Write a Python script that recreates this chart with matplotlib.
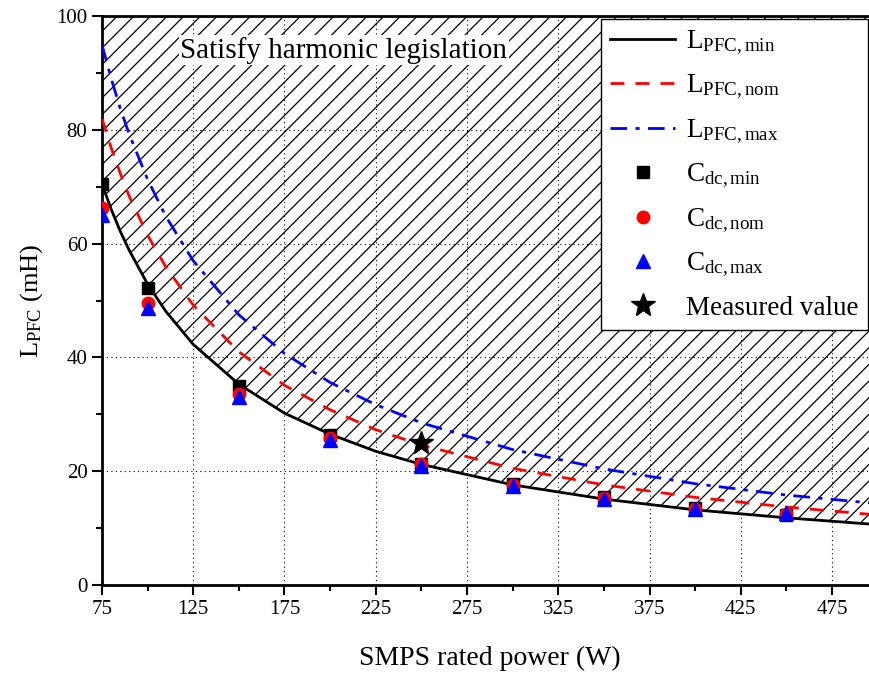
import numpy as np
import matplotlib
matplotlib.use('Agg')
from matplotlib import pyplot as plt
from matplotlib.ticker import MultipleLocator

plt.rcParams['font.family'] = ['Liberation Serif', 'DejaVu Serif']
plt.rcParams['mathtext.fontset'] = 'custom'
plt.rcParams['mathtext.rm'] = 'Liberation Serif'
plt.rcParams['mathtext.it'] = 'Liberation Serif:italic'
plt.rcParams['hatch.linewidth'] = 0.9

# curves
p_line = [75, 80, 85, 90, 100, 110, 125, 150, 175, 200, 225, 250, 300, 350, 400, 450, 500]
l_min = [70.5, 66.1, 62.2, 58.8, 52.9, 48.1, 42.3, 35.3, 30.2, 26.5, 23.5, 21.2, 17.6, 15.1, 13.2, 11.8, 10.6]
l_nom = [82.0, 76.9, 72.4, 68.3, 61.5, 55.9, 49.2, 41.0, 35.1, 30.8, 27.3, 24.6, 20.5, 17.6, 15.4, 13.7, 12.3]
l_max = [95.0, 89.1, 83.8, 79.2, 71.3, 64.8, 57.0, 47.5, 40.7, 35.6, 31.7, 28.5, 23.8, 20.4, 17.8, 15.8, 14.3]

# capacitor points
p_pts = [75, 100, 150, 200, 250, 300, 350, 400, 450]
c_min = [70.5, 52.3, 35.0, 26.3, 21.3, 17.8, 15.4, 13.5, 12.3]
c_nom = [66.2, 49.5, 33.6, 25.8, 21.2, 17.6, 15.3, 13.4, 12.5]
c_max = [65.0, 48.7, 33.0, 25.4, 20.9, 17.4, 15.1, 13.3, 12.6]

meas_p = [250]
meas_l = [25]

fig = plt.figure(figsize=(8.7, 6.77), dpi=100)
ax = fig.add_axes([0.1172, 0.136, 0.8916, 0.840])

ax.fill_between(p_line, l_min, 100, facecolor='none', edgecolor='black',
                hatch='//', linewidth=1.0, zorder=2)
ax.plot(p_line, l_min, color='black', lw=2, label=r'$\mathrm{L_{PFC,min}}$', zorder=3)
ax.plot(p_line, l_nom, color='red', lw=2, ls=(0, (5, 4)), label=r'$\mathrm{L_{PFC,nom}}$', zorder=3)
ax.plot(p_line, l_max, color='blue', lw=2, ls=(0, (6, 3, 1.5, 3)), label=r'$\mathrm{L_{PFC,max}}$', zorder=3)

ax.plot(p_pts, c_min, 's', color='black', ms=8, ls='none', label=r'$\mathrm{C_{dc,min}}$', zorder=4)
ax.plot(p_pts, c_nom, 'o', color='red', ms=9, ls='none', label=r'$\mathrm{C_{dc,nom}}$', zorder=4)
ax.plot(p_pts, c_max, '^', color='blue', ms=10, ls='none', label=r'$\mathrm{C_{dc,max}}$', zorder=4)
ax.plot(meas_p, meas_l, '*', color='black', ms=18, ls='none', label='Measured value', zorder=5)

ax.text(118, 94.0, 'Satisfy harmonic legislation', fontsize=21,
        va='center', ha='left', zorder=6,
        bbox=dict(facecolor='white', edgecolor='none', pad=1))

ax.set_xlim(75, 500)
ax.set_ylim(0, 100)
ax.xaxis.set_minor_locator(MultipleLocator(25))
ax.yaxis.set_major_locator(MultipleLocator(20))
ax.yaxis.set_minor_locator(MultipleLocator(10))
ax.set_xticks(np.arange(75, 500, 50))
ax.grid(True, which='major', ls=(0, (1, 3)), color='black', lw=0.8)
ax.tick_params(which='major', direction='out', length=7, width=1.5, labelsize=15)
ax.tick_params(which='minor', direction='out', length=4, width=1.5)
for s in ax.spines.values():
    s.set_linewidth(2)

ax.set_xlabel('SMPS rated power (W)', fontsize=20, labelpad=20)
ax.set_ylabel(r'$\mathrm{L_{PFC}}$ (mH)', fontsize=19, labelpad=8)

leg = ax.legend(loc='upper right', bbox_to_anchor=(0.9875, 0.9947), borderaxespad=0,
                fontsize=19.5, frameon=True, fancybox=False, edgecolor='black',
                framealpha=1, handlelength=2.4, borderpad=0.35, labelspacing=0.6,
                handletextpad=0.4)
leg.get_frame().set_linewidth(1)
leg.set_zorder(10)

fig.savefig('out.png', dpi=100)
